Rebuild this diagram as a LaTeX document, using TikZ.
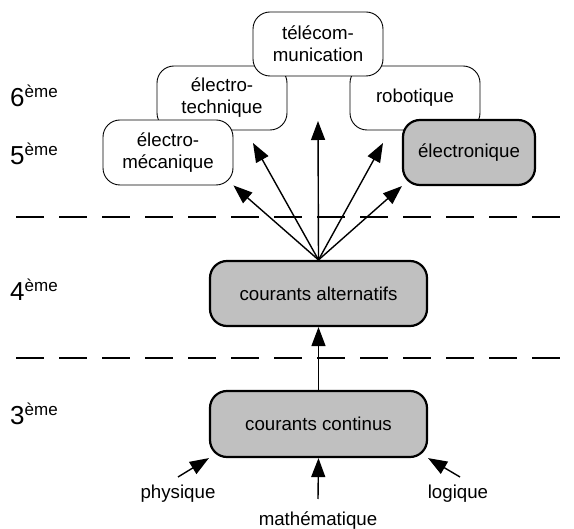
\documentclass[tikz,border=0pt]{standalone}
\usepackage{fontspec}
\setmainfont{Liberation Sans}
\usetikzlibrary{arrows.meta}
\definecolor{boxgray}{HTML}{C0C0C0}
\newcommand{\bodyfont}{\fontsize{18.7}{22}\selectfont}
\newcommand{\lvl}[1]{\fontsize{26}{30}\selectfont #1\raisebox{9pt}{\fontsize{17}{19}\selectfont ème}}
\begin{document}
\begin{tikzpicture}[x=1pt,y=-1pt,
  box/.style={draw, rounded corners=17pt, fill=white, minimum width=130pt, minimum height=64pt,
    align=center, inner sep=0pt, line width=0.9pt, font=\bodyfont},
  gbox/.style={box, fill=boxgray, line width=2.2pt},
  arr/.style={-{Triangle[length=19pt,width=14pt]}, line width=1.4pt},
  level/.style={anchor=base west, inner sep=0pt},
  lbl/.style={inner sep=0pt, font=\bodyfont},
  sep/.style={line width=1.4pt, dash pattern=on 28pt off 15pt}]
\useasboundingbox (0,0) rectangle (574,529);
% level labels
\node[level] (l6) at (10,107) {\lvl{6}};
\node[level] (l5) at (10,165) {\lvl{5}};
\node[level] (l4) at (10,301) {\lvl{4}};
\node[level] (l3) at (10,425) {\lvl{3}};
% separators
\coordinate (s1a) at (16,217); \coordinate (s1b) at (562,217);
\coordinate (s2a) at (16,358); \coordinate (s2b) at (562,358);
\draw[sep] (s1a) -- (s1b);
\draw[sep] (s2a) -- (s2b);
% top boxes
\node[box] (et) at (222,98) {électro-\\technique};
\node[box] (rb) at (415,98) {robotique};
\node[box] (tc) at (318,44) {télécom-\\munication};
\node[box, minimum height=65pt] (em) at (168,152.5) {électro-\\mécanique};
\node[gbox, minimum width=132pt, minimum height=65pt] (en) at (469,152.5) {électronique};
% middle boxes
\node[gbox, minimum width=217pt, minimum height=65pt] (ca) at (318.5,293.5) {courants alternatifs};
\node[gbox, minimum width=217pt, minimum height=66pt] (cc) at (318.5,424) {courants continus};
% free arrow ends
\coordinate (p1) at (253,143);
\coordinate (p2) at (318,121);
\coordinate (p3) at (383,143);
\coordinate (ph) at (178,477);
\coordinate (ma) at (318,499);
\coordinate (lo) at (460,477);
% arrows up
\draw[arr] (ca.north) -- (em.south east);
\draw[arr] (ca.north) -- (p1);
\draw[arr] (ca.north) -- (p2);
\draw[arr] (ca.north) -- (p3);
\draw[arr] (ca.north) -- (en.south west);
\draw[arr] (cc.north) -- (ca.south);
\draw[arr] (ph) -- (cc.south west);
\draw[arr] (ma) -- (cc.south);
\draw[arr] (lo) -- (cc.south east);
% bottom labels
\node[lbl] (tph) at (178,494) {physique};
\node[lbl] (tma) at (318,521) {mathématique};
\node[lbl] (tlo) at (458,494) {logique};
\end{tikzpicture}
\end{document}
